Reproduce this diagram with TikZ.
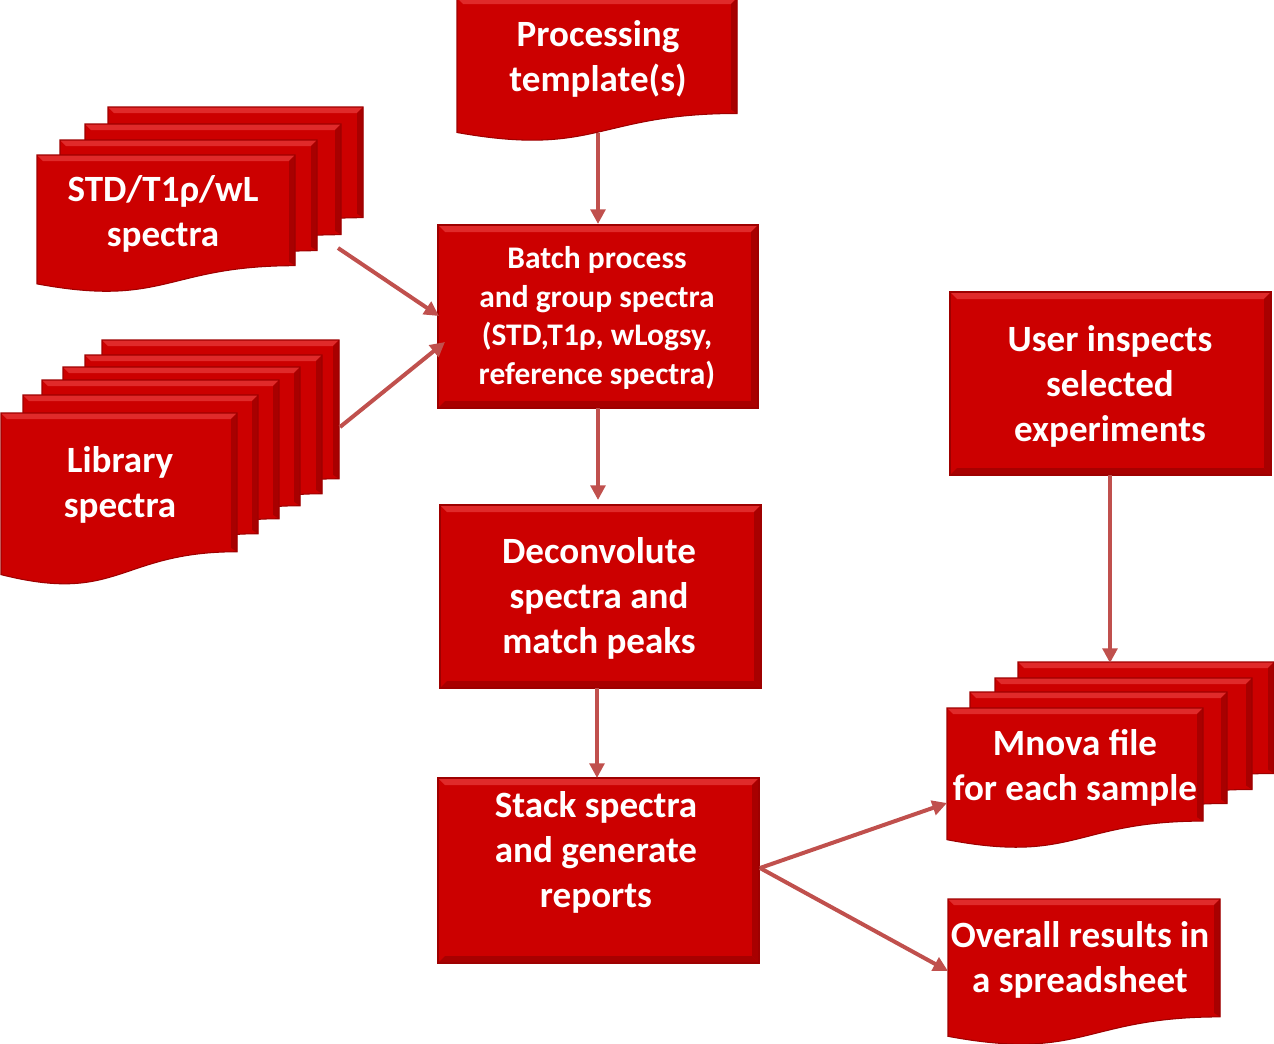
\documentclass[tikz,border=0pt]{standalone}
\usepackage{fontspec}
\setmainfont{Carlito}
\usetikzlibrary{arrows.meta}
\definecolor{boxred}{HTML}{CC0000}
\definecolor{edgered}{HTML}{9E0000}
\definecolor{lightred}{HTML}{E02A2A}
\definecolor{darkred}{HTML}{A80000}
\definecolor{arrowred}{HTML}{C0504D}
\newcommand\docpage[4]{%
  \fill[boxred] (#1,#2) -- ({#1+#3},#2) -- ({#1+#3},{#2+0.802*#4})
    .. controls ({#1+0.5*#3},{#2+0.802*#4}) and ({#1+0.5*#3},{#2+1.1075*#4}) .. (#1,{#2+0.934*#4}) -- cycle;
  \fill[lightred] (#1,#2) -- ({#1+#3},#2) -- ({#1+#3-6},{#2+6}) -- ({#1+6},{#2+6}) -- cycle;
  \fill[darkred] ({#1+#3},#2) -- ({#1+#3},{#2+0.802*#4}) -- ({#1+#3-6},{#2+0.802*#4-4}) -- ({#1+#3-6},{#2+6}) -- cycle;
  \draw[edgered,line width=0.8pt] (#1,#2) -- ({#1+#3},#2) -- ({#1+#3},{#2+0.802*#4})
    .. controls ({#1+0.5*#3},{#2+0.802*#4}) and ({#1+0.5*#3},{#2+1.1075*#4}) .. (#1,{#2+0.934*#4}) -- cycle;}
\newcommand\bevelrect[4]{%
  \fill[boxred] (#1,#2) rectangle (#3,#4);
  \fill[lightred] (#1,#2) -- (#3,#2) -- ({#3-7},{#2+7}) -- ({#1+7},{#2+7}) -- cycle;
  \fill[darkred] (#3,#2) -- (#3,#4) -- ({#3-7},{#4-7}) -- ({#3-7},{#2+7}) -- cycle;
  \fill[darkred] (#1,#4) -- (#3,#4) -- ({#3-7},{#4-7}) -- ({#1+7},{#4-7}) -- cycle;
  \draw[edgered,line width=0.8pt] (#1,#2) rectangle (#3,#4);}
\tikzset{
  bigtxt/.style={text=white,font=\bfseries\fontsize{27.8}{33.75}\selectfont,align=center},
  smalltxt/.style={text=white,font=\bfseries\fontsize{23.6}{28.8}\selectfont,align=center},
  flow/.style={draw=arrowred,line width=3pt,-{Triangle[length=11pt,width=11pt]}}
}
\begin{document}
\begin{tikzpicture}[x=0.75pt,y=-0.75pt]
\useasboundingbox (0,0) rectangle (1274,1043);
% Processing template
\docpage{457}{-2}{280}{144}
\node[bigtxt] (proc) at (598,59) {Processing\\template(s)};
% STD stack
\docpage{108}{107}{255}{138}
\docpage{85}{124}{256}{138}
\docpage{60}{140}{257}{138}
\docpage{37}{155}{258}{138}
\node[bigtxt] (std) at (163,214) {STD/T1ρ/wL\\spectra};
% Library stack
\docpage{102}{340}{237}{173}
\docpage{85}{355}{237}{173}
\docpage{63}{367}{237}{173}
\docpage{42}{380}{237}{173}
\docpage{23}{395}{235}{173}
\docpage{1}{413}{236}{173}
\node[bigtxt] (lib) at (120,485) {Library\\spectra};
% Rectangles
\bevelrect{438}{225}{758}{408}
\node[smalltxt] (batch) at (597,318) {Batch process\\and group spectra\\(STD,T1ρ, wLogsy,\\reference spectra)};
\bevelrect{440}{505}{761}{688}
\node[bigtxt] (decon) at (599,598) {Deconvolute\\spectra and\\match peaks};
\bevelrect{438}{778}{759}{963}
\node[bigtxt] (stack) at (596,852) {Stack spectra\\and generate\\reports};
\bevelrect{950}{292}{1271}{475}
\node[bigtxt] (user) at (1110,386) {User inspects\\selected\\experiments};
% Mnova stack
\docpage{1018}{662}{256}{139}
\docpage{995}{678}{257}{139}
\docpage{970}{692}{257}{139}
\docpage{947}{708}{256}{141}
\node[bigtxt] (mnova) at (1075,768) {Mnova file\\for each sample};
% Overall results
\docpage{948}{899}{272}{147}
\node[bigtxt] (overall) at (1080,960) {Overall results in\\a spreadsheet};
% connector anchors
\coordinate (procB) at (598,133);
\coordinate (batchT) at (598,224);
\coordinate (batchB) at (598,408);
\coordinate (batchL1) at (439,316);
\coordinate (batchL2) at (445,342);
\coordinate (stdR) at (338,248);
\coordinate (libR) at (340,427);
\coordinate (deconT) at (598,500);
\coordinate (deconB) at (597,688);
\coordinate (stackT) at (597,778);
\coordinate (stackR) at (760,868);
\coordinate (userB) at (1110,475);
\coordinate (mnovaT) at (1110,663);
\coordinate (mnovaL) at (947,803);
\coordinate (overallL) at (948,971);
% connectors
\draw[flow] (procB) -- (batchT);
\draw[flow] (stdR) -- (batchL1);
\draw[flow] (libR) -- (batchL2);
\draw[flow] (batchB) -- (deconT);
\draw[flow] (deconB) -- (stackT);
\draw[flow] (userB) -- (mnovaT);
\draw[flow] (stackR) -- (mnovaL);
\draw[flow] (stackR) -- (overallL);
\end{tikzpicture}
\end{document}
